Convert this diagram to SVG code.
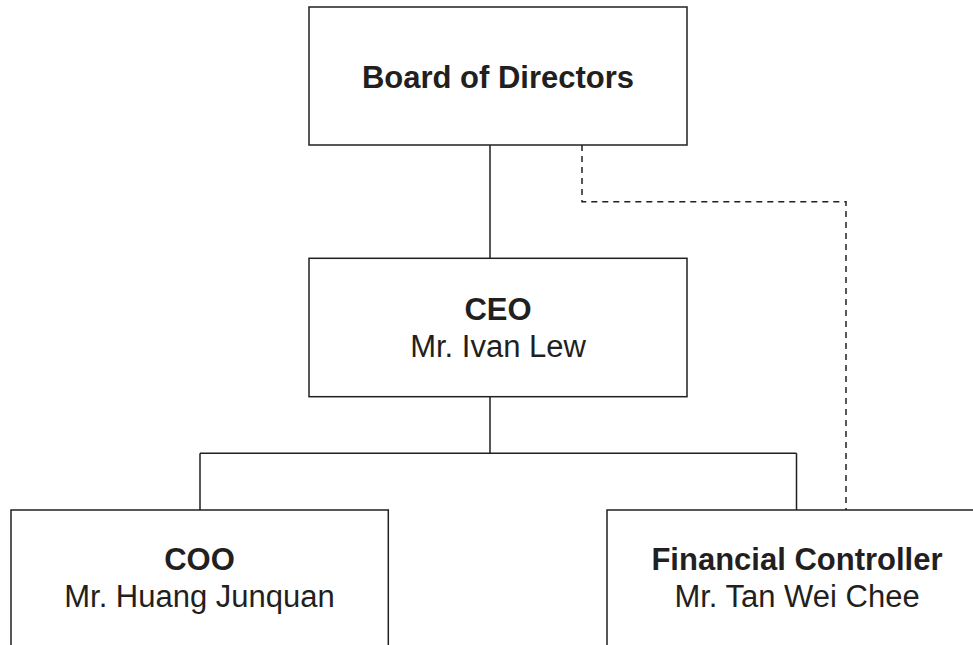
<svg xmlns="http://www.w3.org/2000/svg" width="973" height="645" viewBox="0 0 973 645">
<style>
.box{fill:#fff;stroke:#231f20;stroke-width:1.5}
.ln{fill:none;stroke:#231f20;stroke-width:1.5}
.dash{fill:none;stroke:#231f20;stroke-width:1.5;stroke-dasharray:6 5}
.t{font-family:"Liberation Sans",Arial,sans-serif;font-size:31px;fill:#231f20;text-anchor:middle}
.b{font-weight:bold}
</style>
<rect width="973" height="645" fill="#fff"/>
<g id="connectors">
<path class="ln" d="M490 145V258"/>
<path class="ln" d="M490 397V453.3M200 453.3H796.5M200 453.3V510M796.5 453.3V510"/>
<path class="dash" d="M582 145V201.7H846V510"/>
</g>
<g id="board">
<rect class="box" x="309" y="7" width="378" height="138"/>
<text class="t b" x="498" y="87.5">Board of Directors</text>
</g>
<g id="ceo">
<rect class="box" x="309" y="258.3" width="378" height="138.4"/>
<text class="t b" x="498" y="319.5">CEO</text>
<text class="t" x="498" y="356.5">Mr. Ivan Lew</text>
</g>
<g id="coo">
<rect class="box" x="11" y="510" width="377.3" height="160"/>
<text class="t b" x="199.5" y="570">COO</text>
<text class="t" x="199.5" y="607">Mr. Huang Junquan</text>
</g>
<g id="fc">
<rect class="box" x="607" y="510" width="380" height="160"/>
<text class="t b" x="797" y="570">Financial Controller</text>
<text class="t" x="797" y="607">Mr. Tan Wei Chee</text>
</g>
</svg>
